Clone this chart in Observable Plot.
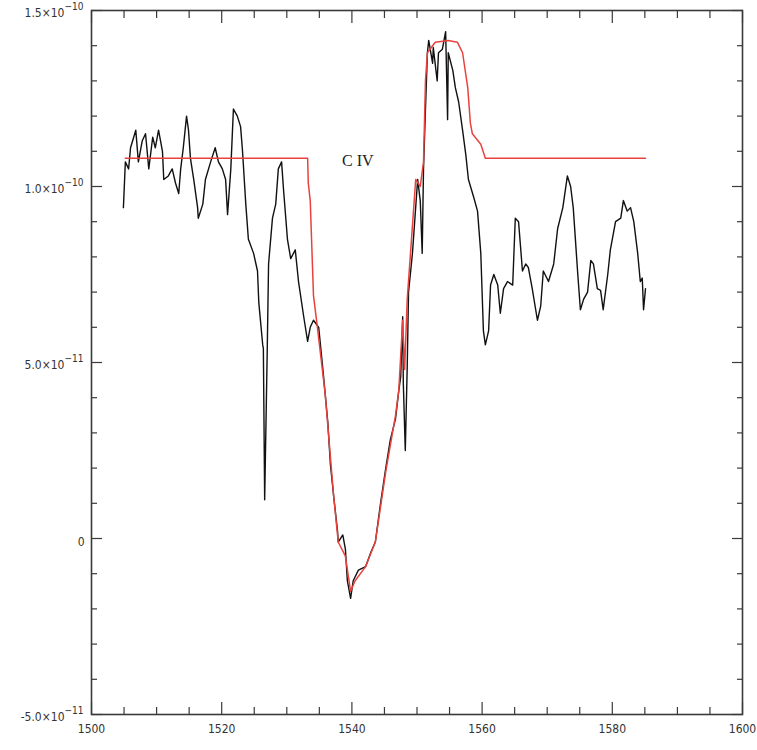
<!DOCTYPE html>
<html><head><meta charset="utf-8">
<script src="https://cdn.jsdelivr.net/npm/d3@7"></script>
<script src="https://cdn.jsdelivr.net/npm/@observablehq/plot@0.6"></script>
<style>body{margin:0;background:#fff}</style>
</head><body><div id="chart"></div>
<script>
// Wavelength (Å) and flux (in units of 1e-11)
const obsWave = [1504.9,1505.2,1505.7,1506.0,1506.8,1507.2,1507.8,1508.3,1508.8,1509.4,1509.8,1510.3,1510.9,1511.1,1511.8,1512.4,1512.9,1513.4,1513.7,1514.1,1514.6,1514.9,1515.2,1515.7,1516.3,1516.4,1517.1,1517.5,1518.3,1519.0,1519.5,1520.1,1520.6,1520.9,1521.4,1521.8,1522.4,1522.9,1523.2,1523.7,1524.1,1524.9,1525.5,1525.7,1526.3,1526.4,1526.6,1527.0,1527.2,1527.8,1528.3,1528.7,1529.2,1529.5,1530.1,1530.6,1531.3,1531.8,1532.6,1533.2,1533.6,1534.1,1534.9,1535.6,1536.3,1536.7,1537.2,1537.8,1537.9,1538.6,1539.0,1539.3,1539.8,1540.2,1541.0,1542.1,1542.9,1543.6,1544.4,1545.2,1545.9,1546.7,1547.2,1547.5,1547.8,1547.9,1548.2,1548.5,1548.7,1549.3,1550.1,1550.5,1550.8,1551.0,1551.3,1551.6,1551.8,1552.4,1552.5,1553.1,1553.3,1553.9,1554.4,1554.7,1554.8,1555.5,1555.9,1556.4,1557.0,1557.5,1557.9,1558.7,1559.3,1559.8,1560.2,1560.5,1561.0,1561.3,1561.8,1562.4,1562.8,1563.3,1563.9,1564.7,1565.1,1565.6,1566.2,1566.7,1567.1,1567.7,1568.5,1569.0,1569.4,1570.2,1571.0,1571.6,1572.4,1573.1,1573.6,1574.0,1574.7,1575.1,1575.6,1576.2,1576.7,1577.1,1577.7,1578.2,1578.6,1579.3,1579.7,1580.5,1581.3,1581.7,1582.3,1582.8,1583.3,1583.9,1584.3,1584.6,1584.8,1585.1];
const obsFlux = [9.4,10.7,10.5,11.1,11.6,10.7,11.3,11.5,10.5,11.4,11.1,11.6,11.0,10.2,10.3,10.5,10.1,9.8,10.5,11.1,12.0,11.6,10.8,10.2,9.4,9.1,9.5,10.2,10.7,11.1,10.7,10.5,10.2,9.2,10.5,12.2,12.0,11.7,11.0,9.5,8.5,8.1,7.6,6.7,5.5,5.4,1.1,5.4,7.8,9.1,9.5,10.5,10.7,9.9,8.5,7.95,8.2,7.3,6.3,5.6,6.0,6.2,6.0,4.7,3.3,2.1,1.2,0.2,-0.1,0.1,-0.3,-1.2,-1.7,-1.2,-0.9,-0.8,-0.4,-0.1,1.0,2.0,2.8,3.4,4.2,4.6,6.3,4.4,2.5,4.9,7.0,8.1,10.2,9.6,8.1,10.5,12.2,13.8,14.15,13.5,13.95,13.0,13.8,13.9,14.4,11.9,13.8,13.3,12.8,12.4,11.6,10.9,10.2,9.7,9.3,8.1,5.9,5.5,5.9,7.2,7.5,7.2,6.4,7.1,7.3,7.2,9.1,9.0,7.6,7.8,7.7,7.1,6.2,6.6,7.6,7.3,7.8,8.8,9.4,10.3,10.0,9.4,7.5,6.5,6.8,7.0,7.9,7.8,7.1,7.05,6.5,7.5,8.2,9.0,9.1,9.6,9.3,9.4,9.0,8.1,7.3,7.4,6.5,7.1];
const modelWave = [1505.2,1533.2,1533.3,1533.6,1534.1,1534.7,1535.9,1537.2,1537.9,1539.0,1539.8,1540.5,1542.1,1543.6,1545.2,1546.7,1547.2,1547.8,1548.1,1548.5,1549.0,1549.8,1550.5,1551.0,1551.3,1551.6,1552.8,1554.8,1556.2,1557.0,1557.8,1558.2,1558.5,1559.8,1560.5,1585.1];
const modelFlux = [10.8,10.8,10.1,9.6,6.9,6.0,4.1,1.2,-0.1,-0.5,-1.5,-1.2,-0.8,-0.1,1.9,3.5,4.2,6.2,4.8,6.8,8.1,10.2,10.0,10.7,13.0,13.8,14.1,14.15,14.1,13.8,12.8,11.8,11.5,11.2,10.8,10.8];

const xMajor = [1500,1520,1540,1560,1580,1600];
const xMajorLabels = ["1500","1520","1540","1560","1580","1600"];
const xMinor = [1505,1510,1515,1525,1530,1535,1545,1550,1555,1565,1570,1575,1585,1590,1595];
const yMajor = [-5,0,5,10,15];
const yMantissa = ["-5.0×10","0","5.0×10","1.0×10","1.5×10"];
const yExponent = ["−11","","−11","−10","−10"];
const yMinor = [-4,-3,-2,-1,1,2,3,4,6,7,8,9,11,12,13,14];
const noteText = "C IV";
const noteWave = 1540.9;
const noteFlux = 10.74;

const obs = obsWave.map((w,i)=>({wave:w, flux:obsFlux[i]}));
const model = modelWave.map((w,i)=>({wave:w, flux:modelFlux[i]}));
const xLab = new Map(xMajor.map((v,i)=>[v,xMajorLabels[i]]));
const yLabs = yMajor.map((v,i)=>({v, m:yMantissa[i], e:yExponent[i]}));
const yWithExp = yLabs.filter(d=>d.e !== "");
const yNoExp = yLabs.filter(d=>d.e === "");

const axCol = "#3a3a3a";
const lblFont = "'DejaVu Sans Condensed','Liberation Sans Narrow',sans-serif";
const chart = Plot.plot({
  width: 757, height: 750,
  marginLeft: 91, marginRight: 15, marginTop: 10, marginBottom: 36,
  x: {domain: [1500,1600], label: null},
  y: {domain: [-5,15], label: null},
  style: {fontFamily: lblFont, fontSize: "11px", color: "#333", background: "#fff"},
  marks: [
    // ticks (inward)
    Plot.axisX(xMinor, {anchor:"bottom", tickSize:-7, tickFormat:()=> "", label:null, stroke:axCol, strokeWidth:1.2}),
    Plot.axisX(xMinor, {anchor:"top", tickSize:-7, tickFormat:()=> "", label:null, stroke:axCol, strokeWidth:1.2}),
    Plot.axisX(xMajor, {anchor:"bottom", tickSize:-12, tickFormat:()=> "", label:null, stroke:axCol, strokeWidth:1.2}),
    Plot.axisX(xMajor, {anchor:"top", tickSize:-12, tickFormat:()=> "", label:null, stroke:axCol, strokeWidth:1.2}),
    Plot.axisY(yMinor, {anchor:"left", tickSize:-6, tickFormat:()=> "", label:null, stroke:axCol, strokeWidth:1.2}),
    Plot.axisY(yMinor, {anchor:"right", tickSize:-6, tickFormat:()=> "", label:null, stroke:axCol, strokeWidth:1.2}),
    Plot.axisY(yMajor, {anchor:"left", tickSize:-11, tickFormat:()=> "", label:null, stroke:axCol, strokeWidth:1.2}),
    Plot.axisY(yMajor, {anchor:"right", tickSize:-11, tickFormat:()=> "", label:null, stroke:axCol, strokeWidth:1.2}),
    // x labels
    Plot.axisX(xMajor, {anchor:"bottom", tickSize:0, tickPadding:10, label:null, tickFormat:d=>xLab.get(d), fill:"#333", fontSize:12}),
    // y labels: mantissa + raised exponent
    Plot.text(yWithExp, {y:"v", frameAnchor:"left", text:"m", textAnchor:"end", dx:-27, dy:3, fill:"#333", fontSize:12, fontFamily:lblFont}),
    Plot.text(yWithExp, {y:"v", frameAnchor:"left", text:"e", textAnchor:"start", dx:-27, dy:-4, fill:"#333", fontSize:10, fontFamily:lblFont}),
    Plot.text(yNoExp, {y:"v", frameAnchor:"left", text:"m", textAnchor:"end", dx:-7, dy:4, fill:"#333", fontSize:12, fontFamily:lblFont}),
    Plot.frame({stroke: axCol, strokeWidth: 1.6}),
    Plot.line(obs, {x:"wave", y:"flux", stroke:"#111", strokeWidth:1.4}),
    Plot.line(model, {x:"wave", y:"flux", stroke:"#e8423e", strokeWidth:1.5}),
    Plot.text([noteText], {x: noteWave, y: noteFlux, text: d=>d, fontFamily:"'Liberation Serif','DejaVu Serif',serif", fontSize:16, fill:"#222"})
  ]
});
document.getElementById("chart").appendChild(chart);
</script>
</body></html>
